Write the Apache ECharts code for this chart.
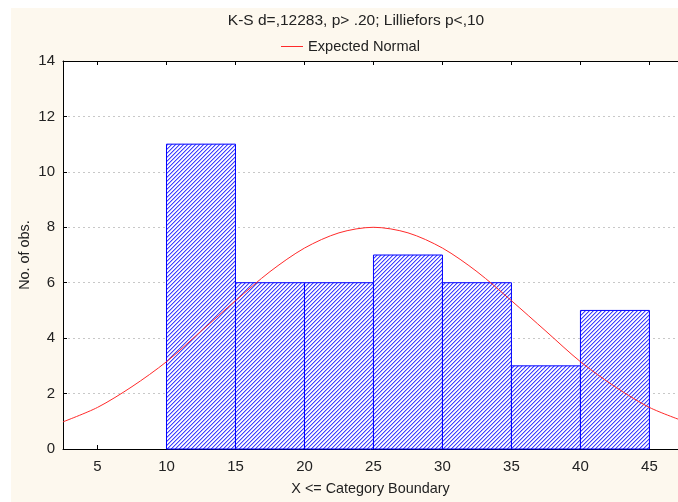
<!DOCTYPE html>
<html><head><meta charset="utf-8">
<script src="https://cdn.jsdelivr.net/npm/echarts@6/dist/echarts.min.js"></script>
<style>
html,body{margin:0;padding:0;background:#fff;}
#wrap{position:relative;width:678px;height:502px;overflow:hidden;}
#cream{position:absolute;left:11px;top:8px;right:0;bottom:0;background:#fdf8ee;}
#chart{position:absolute;left:0;top:0;width:678px;height:502px;}
</style></head>
<body><div id="wrap"><div id="cream"></div><div id="chart"></div></div>
<script>
// Histogram bins (upper category boundaries) and counts
const binStarts = [10, 15, 20, 25, 30, 35, 40];
const binEnds   = [15, 20, 25, 30, 35, 40, 45];
const counts    = [11, 6, 6, 7, 6, 3, 5];
// Expected normal curve
const curveX = [2.5, 5, 7.5, 10, 12.5, 15, 17.5, 20, 22.5, 25, 27.5, 30, 32.5, 35, 37.5, 40, 42.5, 45, 47.5];
const curveY = [0.98, 1.5, 2.25, 3.15, 4.25, 5.35, 6.4, 7.25, 7.8, 8.0, 7.8, 7.25, 6.4, 5.35, 4.25, 3.15, 2.25, 1.5, 1.0];
// Tick labels
const xTicks = [5, 10, 15, 20, 25, 30, 35, 40, 45];
const yTicks = [0, 2, 4, 6, 8, 10, 12, 14];

// hatch pattern
const tile = document.createElement('canvas');
tile.width = 4; tile.height = 4;
const tc = tile.getContext('2d');
tc.fillStyle = '#ffffff'; tc.fillRect(0,0,4,4);
for (let i = 0; i < 4; i++) {
  tc.fillStyle = '#4040ff'; tc.fillRect(i, (3 - i) % 4, 1, 1);
  tc.fillStyle = '#b0b0ff'; tc.fillRect(i, (4 - i) % 4, 1, 1);
  tc.fillStyle = '#ebebff'; tc.fillRect(i, (6 - i) % 4, 1, 1);
}
const hatch = {image: tile, repeat: 'repeat'};

const font = 'Liberation Sans, Arial, sans-serif';
const chart = echarts.init(document.getElementById('chart'), null, {renderer: 'canvas'});
const barData = binStarts.map((s, i) => [s, binEnds[i], counts[i]]);
const lineData = curveX.map((x, i) => [x, curveY[i]]);

chart.setOption({
  animation: false,
  backgroundColor: 'transparent',
  title: {
    text: 'K-S d=,12283, p> .20; Lilliefors p<,10',
    left: 351, textAlign: 'center', top: 8,
    textStyle: {fontFamily: font, fontSize: 15.5, fontWeight: 'normal', color: '#222'}
  },
  legend: {
    left: 276, top: 34,
    itemWidth: 22, itemHeight: 10, itemGap: 7,
    textStyle: {fontFamily: font, fontSize: 14.6, color: '#222'},
    data: [{name: 'Expected Normal', icon: 'path://M0,5 L22,5 L22,6 L0,6 Z'}]
  },
  grid: {
    left: 63, top: 61, right: 0, bottom: 53,
    show: true, backgroundColor: '#ffffff', borderWidth: 0
  },
  xAxis: [{
    type: 'value', min: 2.5, max: 47.07,
    name: 'X <= Category Boundary', nameLocation: 'middle', nameGap: 33,
    nameTextStyle: {fontFamily: font, fontSize: 14.4, color: '#222'},
    axisLine: {show: true, lineStyle: {color: '#000', width: 1}},
    axisTick: {show: true, inside: true, length: 4, customValues: xTicks, lineStyle: {color: '#000'}},
    axisLabel: {customValues: xTicks, fontFamily: font, fontSize: 15, color: '#222', margin: 10},
    splitLine: {show: false}
  }, {
    type: 'value', position: 'top', min: 2.5, max: 47.07,
    axisLine: {show: true, onZero: false, lineStyle: {color: '#000', width: 1}},
    axisTick: {show: true, inside: true, length: 4, customValues: xTicks, lineStyle: {color: '#000'}},
    axisLabel: {show: false},
    splitLine: {show: false}
  }],
  yAxis: {
    type: 'value', min: 0, max: 14, interval: 2,
    name: 'No. of obs.', nameLocation: 'middle', nameGap: 31, nameMoveOverlap: false,
    nameTextStyle: {fontFamily: font, fontSize: 14.4, color: '#222'},
    axisLine: {show: true, lineStyle: {color: '#000', width: 1}},
    axisTick: {show: true, inside: true, length: 4, lineStyle: {color: '#000'}},
    axisLabel: {fontFamily: font, fontSize: 15, color: '#222', margin: 8,
      formatter: v => yTicks.includes(v) ? String(v) : ''},
    splitLine: {show: true, lineStyle: {color: '#c8c8c8', type: [2, 3], width: 1}}
  },
  series: [{
    type: 'custom', name: 'bars',
    data: barData,
    encode: {x: [0, 1], y: 2},
    renderItem: function (params, api) {
      const p0 = api.coord([api.value(0), 0]);
      const p1 = api.coord([api.value(1), api.value(2)]);
      return {
        type: 'rect',
        shape: {x: p0[0], y: p1[1], width: p1[0] - p0[0], height: p0[1] - p1[1]},
        style: {fill: hatch, stroke: '#0000ff', lineWidth: 1}
      };
    },
    z: 2
  }, {
    type: 'line', name: 'Expected Normal',
    data: lineData, smooth: 0.3, symbol: 'none', clip: true,
    lineStyle: {color: '#ff2a2a', width: 1},
    itemStyle: {color: '#ff2a2a'},
    z: 3
  }]
});
</script></body></html>
